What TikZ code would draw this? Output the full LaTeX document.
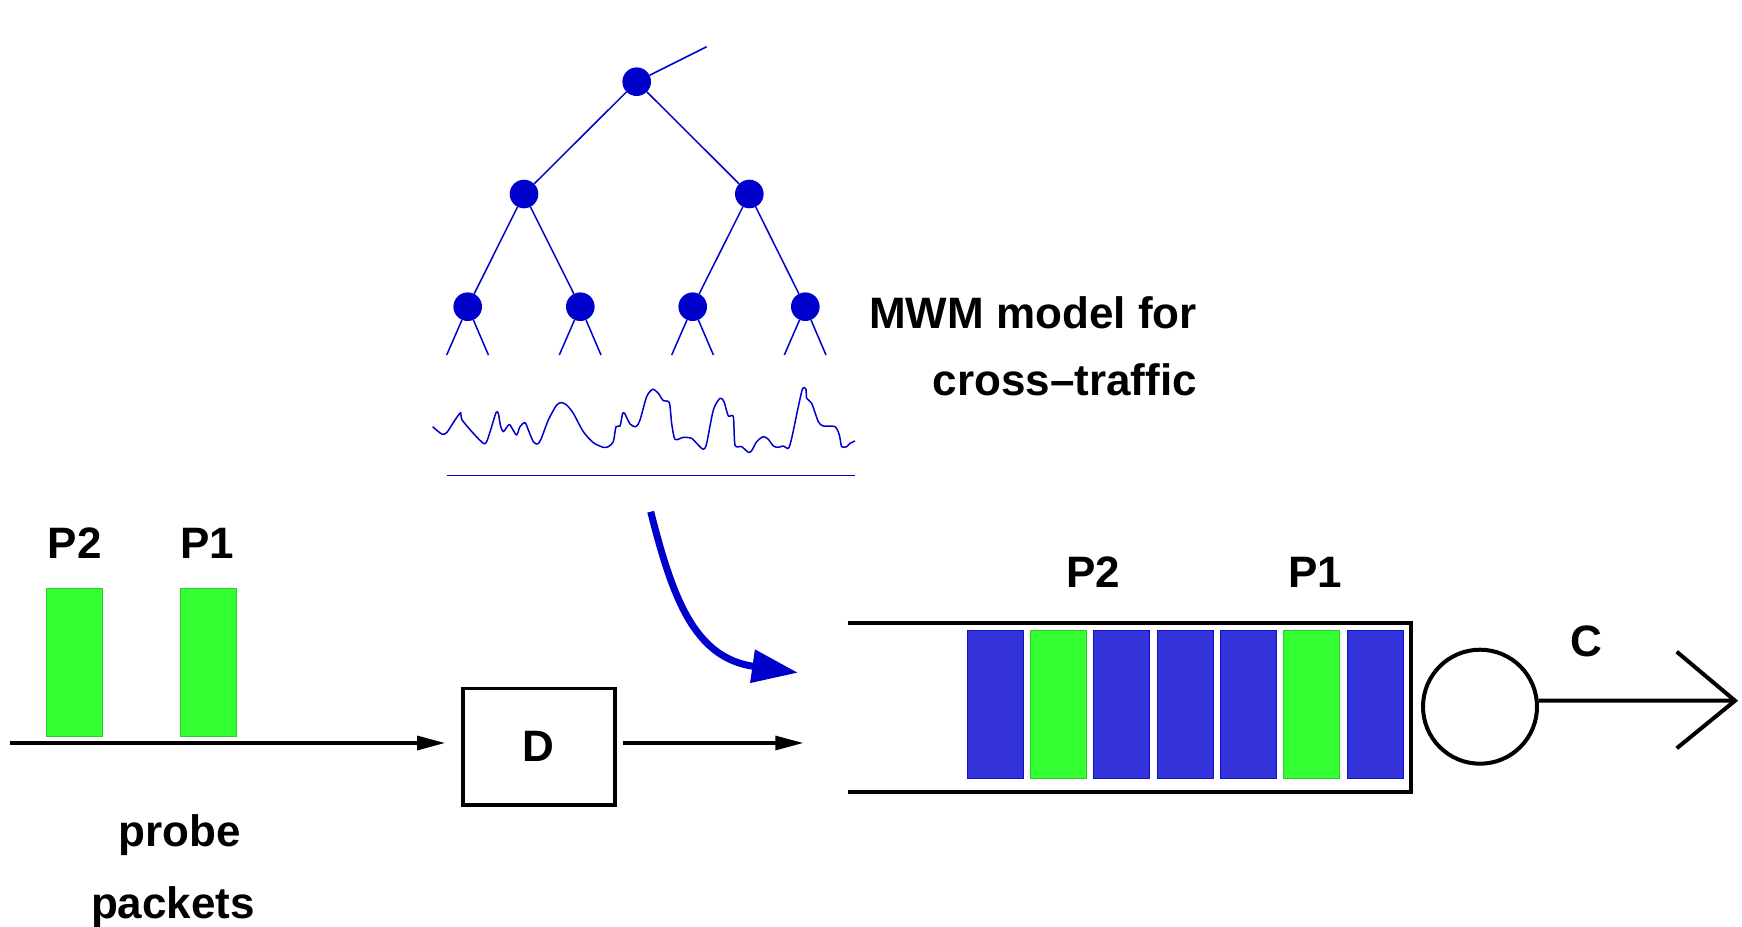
\documentclass[tikz,border=0pt]{standalone}
\usepackage{fontspec}
\setmainfont{Liberation Sans}
\usetikzlibrary{arrows.meta}
\definecolor{treeblue}{RGB}{0,0,204}
\definecolor{pktblue}{RGB}{51,51,217}
\definecolor{pktgreen}{RGB}{51,255,51}
\begin{document}
\begin{tikzpicture}[x=1pt, y=-1pt, line join=miter,
  bigfont/.style={font=\fontsize{44}{52}\selectfont\bfseries},
  lbl/.style={bigfont, inner sep=0pt, anchor=base},
  dot/.style={circle, fill=treeblue, inner sep=0pt, minimum size=28.6pt},
  twig/.style={treeblue, line width=1.5pt},
  pkt/.style={rectangle, inner sep=0pt, minimum width=56pt, minimum height=148pt, line width=1pt},
  bluepkt/.style={pkt, fill=pktblue, draw=treeblue!70!pktblue},
  greenpkt/.style={pkt, fill=pktgreen, draw=pktgreen!80!black},
  wire/.style={line width=3.2pt},
  arr/.style={wire, -{Triangle[length=28pt,width=14pt]}},
  heavy/.style={line width=4pt}]
\useasboundingbox (0,0) rectangle (1742,926);

% ---- multiscale tree of the cross-traffic model ----
\node[dot] (r)  at (636.7,81.7) {};
\node[dot] (a)  at (524,194) {};
\node[dot] (b)  at (749.3,194) {};
\node[dot] (aa) at (467.7,306.7) {};
\node[dot] (ab) at (580.3,306.7) {};
\node[dot] (ba) at (692.7,306.7) {};
\node[dot] (bb) at (805.3,306.7) {};
\coordinate (rtail) at (706.7,46.7);
\draw[twig] (r) -- (rtail);
\draw[twig] (r) -- (a);
\draw[twig] (r) -- (b);
\draw[twig] (a) -- (aa);
\draw[twig] (a) -- (ab);
\draw[twig] (b) -- (ba);
\draw[twig] (b) -- (bb);
\foreach \n in {aa,ab,ba,bb}{
  \coordinate (\n-l) at ([shift={(-21,48.3)}]\n.center);
  \coordinate (\n-r) at ([shift={(20.7,48.3)}]\n.center);
  \draw[twig] (\n) -- (\n-l);
  \draw[twig] (\n) -- (\n-r);
}

% ---- traffic trace ----
\begin{scope}[shift={(420,30)}, scale=1/3]
\draw[twig, line join=round] plot[smooth, tension=0.45] coordinates {
 (38,1190) (65,1212) (80,1208) (105,1170) (122,1148) (125,1168) (160,1210)
 (190,1240) (200,1235) (215,1190) (228,1148) (235,1150) (242,1190) (250,1205)
 (258,1195) (268,1183) (278,1198) (290,1215) (300,1190) (315,1178) (325,1200)
 (340,1235) (352,1242) (362,1230) (385,1170) (410,1125) (425,1118) (440,1125)
 (460,1150) (490,1205) (520,1238) (550,1252) (565,1250) (580,1235) (588,1190)
 (600,1188) (608,1150) (615,1152) (630,1182) (648,1190) (660,1170) (680,1100)
 (698,1078) (715,1090) (730,1112) (748,1118) (755,1180) (765,1228) (790,1222)
 (815,1225) (830,1240) (850,1258) (860,1240) (880,1140) (900,1105) (912,1115)
 (925,1158) (940,1160) (945,1245) (965,1250) (985,1267) (995,1262) (1010,1235)
 (1030,1220) (1045,1228) (1060,1248) (1075,1252) (1090,1248) (1105,1255)
 (1115,1225) (1135,1130) (1148,1075) (1158,1078) (1160,1105) (1175,1120)
 (1195,1175) (1210,1188) (1245,1190) (1258,1215) (1265,1250) (1280,1250)
 (1290,1240) (1305,1233)};
\end{scope}
\draw[twig] (446.7,475.7) -- (855,475.7);

\node[lbl, anchor=base east] (mwm) at (1197,328.3) {MWM model for};
\node[lbl, anchor=base east] (ct) at (1197,395) {cross–traffic};

% ---- cross traffic joins the queue ----
\coordinate (flowsrc) at (650.7,511.7);
\coordinate (flowdst) at (798,672.7);
\draw[treeblue, line width=7pt, -{Triangle[length=46pt,width=32pt]}]
  (flowsrc) .. controls (673,600) and (695,658) .. (flowdst);

% ---- probe packets and delay ----
\node[greenpkt] (g2) at (74.6,662.7) {};
\node[greenpkt] (g1) at (208,662.7) {};
\node[lbl] (lp2) at (74.6,558.3) {P2};
\node[lbl] (lp1) at (207,558.3) {P1};
\node[lbl] (probe) at (180,846.7) {probe};
\node[lbl] (packets) at (173,918) {packets};

\node[draw, wire, line width=3.5pt, bigfont, inner sep=0pt,
      minimum width=152pt, minimum height=116.5pt] (D) at (538.8,746.7) {D};
\coordinate (pin) at (10,743);
\coordinate (qin) at (803.3,743);
\draw[arr] (pin) -- ([xshift=-16pt]pin -| D.west);
\draw[arr] ([xshift=6pt]pin -| D.east) -- (qin);

% ---- queue with server ----
\coordinate (qtl) at (847.7,622.7);
\coordinate (qtr) at (1411,622.7);
\coordinate (qbr) at (1411,792);
\coordinate (qbl) at (847.7,792);
\draw[heavy] (qtl) -- (qtr) -- (qbr) -- (qbl);

\node[bluepkt]  (q1) at (995.0,704.5) {};
\node[greenpkt] (q2) at (1058.4,704.5) {};
\node[bluepkt]  (q3) at (1121.7,704.5) {};
\node[bluepkt]  (q4) at (1185.0,704.5) {};
\node[bluepkt]  (q5) at (1248.4,704.5) {};
\node[greenpkt] (q6) at (1311.7,704.5) {};
\node[bluepkt]  (q7) at (1375.0,704.5) {};
\node[lbl] (qp2) at (1093.3,587.3) {P2};
\node[lbl] (qp1) at (1315,587.3) {P1};

\node[circle, draw, heavy, inner sep=0pt, minimum size=114pt] (srv) at (1480,706.7) {};
\coordinate (tip) at (1735,700.7);
\coordinate (armup) at (1676.7,651.7);
\coordinate (armdn) at (1676.7,748.3);
\draw[heavy] (srv.6) -- (tip);
\draw[heavy] (armup) -- (tip) -- (armdn);
\node[lbl] (cap) at (1586.7,656.7) {C};
\end{tikzpicture}
\end{document}
